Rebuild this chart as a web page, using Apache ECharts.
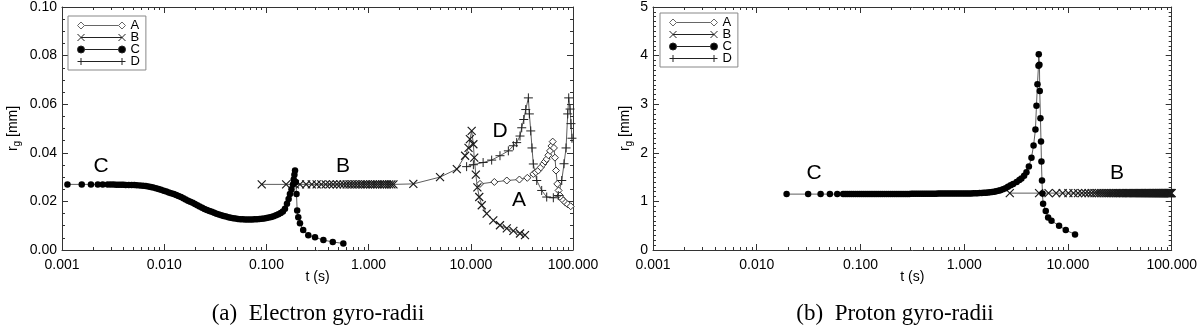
<!DOCTYPE html>
<html>
<head>
<meta charset="utf-8">
<title>gyro-radii</title>
<script src="https://cdn.jsdelivr.net/npm/echarts@6/dist/echarts.min.js"></script>
<style>
  html, body { margin: 0; padding: 0; background: #fff; }
  #chart { width: 1200px; height: 326px; }
</style>
</head>
<body>
<div id="chart"></div>
<script>
// ---- tick labels / axis ranges ----
var timeMajor = [0.001, 0.01, 0.1, 1, 10, 100];
var timeMinorSteps = [2, 3, 4, 5, 6, 7, 8, 9];
var electronMax = 0.10, electronStep = 0.02;
var protonMax = 5, protonStep = 1;
var seriesNames = ['A', 'B', 'C', 'D'];

// ---- (a) electron gyro-radii, [t (s), r_g (mm)] ----
var electronA = [[12.3,0.0272],[17,0.0280],[22.5,0.0286],[29.9,0.0290],[35.7,0.0297],[40.9,0.0313],[43.3,0.0320],[45.7,0.0327],[48.4,0.0340],[51.2,0.0354],[53.2,0.0364],[55.3,0.0374],[57.4,0.0390],[59.6,0.0408],[61.5,0.0428],[63.3,0.0446],[65.1,0.0420],[66.6,0.0380],[68.2,0.0327],[70.2,0.0272],[72.3,0.0245],[74.6,0.0224],[77.5,0.0212],[80.4,0.0204],[84.5,0.0195],[88.8,0.0188],[94.9,0.0180]];
var electronB = [[0.090,0.027],[0.156,0.027],[0.19,0.027],[0.213,0.027],[0.245,0.027],[0.278,0.027],[0.31,0.027],[0.345,0.027],[0.38,0.027],[0.415,0.027],[0.45,0.027],[0.49,0.027],[0.53,0.027],[0.57,0.027],[0.61,0.027],[0.65,0.027],[0.69,0.027],[0.735,0.027],[0.78,0.027],[0.83,0.027],[0.88,0.027],[0.93,0.027],[0.98,0.027],[1.04,0.027],[1.1,0.027],[1.16,0.027],[1.22,0.027],[1.29,0.027],[1.36,0.027],[1.43,0.027],[1.51,0.027],[1.59,0.027],[1.67,0.027],[1.75,0.027],[2.74,0.0272],[5.0,0.0300],[7.3,0.0333],[8.8,0.0388],[9.5,0.0420],[9.8,0.0456],[10.2,0.0490],[10.6,0.0435],[10.8,0.0380],[11.2,0.0310],[11.6,0.0258],[12.1,0.0218],[12.8,0.0184],[14.3,0.0150],[16.6,0.0122],[19.3,0.0102],[22.5,0.0089],[26.1,0.0079],[30.3,0.0068],[33.9,0.0061]];
var electronC = [[0.00113,0.0270],[0.00156,0.0270],[0.00192,0.0270],[0.00224,0.0270],[0.0025,0.0270],[0.0028,0.0270],[0.0030,0.0270],[0.0032,0.0270],[0.0034,0.0269],[0.0036,0.0269],[0.0038,0.0269],[0.0040,0.0269],[0.0042,0.0268],[0.0045,0.0268],[0.0048,0.0267],[0.0051,0.0267],[0.0054,0.0266],[0.0058,0.0265],[0.0062,0.0264],[0.0066,0.0263],[0.0070,0.0261],[0.0074,0.0259],[0.0078,0.0257],[0.0083,0.0254],[0.0088,0.0251],[0.0093,0.0248],[0.0099,0.0244],[0.0105,0.0241],[0.0111,0.0237],[0.0117,0.0234],[0.0124,0.0230],[0.0131,0.0226],[0.0138,0.0222],[0.0146,0.0218],[0.0154,0.0213],[0.0162,0.0208],[0.0171,0.0203],[0.0180,0.0199],[0.0190,0.0194],[0.0200,0.0189],[0.0211,0.0184],[0.0222,0.0179],[0.0235,0.0174],[0.0248,0.0169],[0.0262,0.0165],[0.0277,0.0161],[0.0292,0.0157],[0.0308,0.0153],[0.0325,0.0149],[0.0343,0.0146],[0.0362,0.0143],[0.0382,0.0140],[0.0403,0.0138],[0.0425,0.0135],[0.0448,0.0133],[0.0473,0.0131],[0.0499,0.0130],[0.0527,0.0128],[0.0556,0.0127],[0.0587,0.0127],[0.0619,0.0126],[0.0653,0.0126],[0.0689,0.0126],[0.0727,0.0126],[0.0767,0.0127],[0.0809,0.0127],[0.0854,0.0128],[0.0901,0.0129],[0.0951,0.0130],[0.1003,0.0132],[0.1058,0.0134],[0.1116,0.0136],[0.1177,0.0139],[0.1242,0.0143],[0.1310,0.0147],[0.1380,0.0152],[0.1450,0.0158],[0.1520,0.0170],[0.1590,0.0190],[0.1650,0.0210],[0.1700,0.0230],[0.1760,0.0250],[0.1820,0.0270],[0.1850,0.0290],[0.1880,0.0310],[0.1906,0.0327],[0.1940,0.0280],[0.1970,0.0230],[0.2000,0.0163],[0.2050,0.0135],[0.2130,0.0110],[0.2290,0.0082],[0.2570,0.0061],[0.2990,0.0052],[0.3610,0.0041],[0.4460,0.0033],[0.5660,0.0027]];
var electronD = [[9.1,0.0343],[10.6,0.0351],[13.2,0.0360],[16.0,0.0370],[19.3,0.0388],[23.3,0.0408],[26.1,0.0429],[28.1,0.0442],[30.3,0.0469],[31.5,0.0503],[33.0,0.0537],[34.5,0.0578],[36.6,0.0626],[37.4,0.0560],[38.6,0.0490],[39.7,0.0420],[40.9,0.0354],[44.2,0.0286],[49.4,0.0245],[55.3,0.0218],[64.2,0.0215],[71.8,0.0224],[77.6,0.0286],[81.7,0.0355],[85.5,0.0420],[88.8,0.0560],[90.8,0.0626],[93.6,0.0580],[95.5,0.0520],[97.7,0.0460]];

// ---- (b) proton gyro-radii, [t (s), r_g (mm)] ----
var protonA = [];
var protonB = [[2.75,1.17],[5.27,1.17],[6.5,1.17],[7.7,1.17],[8.9,1.17],[10.1,1.17],[11.3,1.17],[12.5,1.17],[13.6,1.17],[14.7,1.17],[15.8,1.17],[16.9,1.17],[18,1.17],[19,1.17],[20,1.17],[21,1.17],[22,1.17],[23,1.17],[24,1.17],[25,1.17],[26,1.17],[27,1.17],[28,1.17],[29,1.17],[30,1.17],[31,1.17],[32,1.17],[33,1.17],[34,1.17],[35,1.17],[36,1.17],[37,1.17],[38,1.17],[39,1.17],[40,1.17],[41,1.17],[42,1.17],[43,1.17],[44,1.17],[45,1.17],[46,1.17],[47,1.17],[48,1.17],[49,1.17],[50,1.17],[51,1.17],[52,1.17],[53,1.17],[54,1.17],[55,1.17],[56,1.17],[57,1.17],[58,1.17],[59,1.17],[60,1.17],[61,1.17],[62,1.17],[63,1.17],[64,1.17],[65,1.17],[66,1.17],[67,1.17],[68,1.17],[69,1.17],[70,1.17],[71,1.17],[72,1.17],[73,1.17],[74,1.17],[75,1.17],[76,1.17],[77,1.17],[78,1.17],[79,1.17],[80,1.17],[81,1.17],[82,1.17],[83,1.17],[84,1.17],[85,1.17],[86,1.17],[87,1.17],[88,1.17],[89,1.17],[90,1.17],[91,1.17],[92,1.17],[93,1.17],[94,1.17],[95,1.17],[96,1.17],[97,1.17],[98,1.17],[99,1.17],[100,1.17]];
var protonC = [[0.0194,1.15],[0.0313,1.15],[0.0413,1.15],[0.0507,1.15],[0.0597,1.15],[0.068,1.15],[0.0712,1.15],[0.0745,1.15],[0.078,1.15],[0.0817,1.15],[0.0855,1.15],[0.0895,1.15],[0.0937,1.15],[0.0981,1.15],[0.1027,1.15],[0.1075,1.15],[0.1126,1.15],[0.1179,1.15],[0.1234,1.15],[0.1292,1.15],[0.1353,1.15],[0.1416,1.15],[0.1483,1.15],[0.1552,1.15],[0.1625,1.15],[0.1702,1.15],[0.1782,1.15],[0.1865,1.15],[0.1953,1.15],[0.2045,1.15],[0.2141,1.15],[0.2241,1.15],[0.2347,1.15],[0.2457,1.15],[0.2572,1.15],[0.2693,1.15],[0.282,1.15],[0.2952,1.15],[0.3091,1.155],[0.3236,1.155],[0.3388,1.155],[0.3548,1.155],[0.3714,1.155],[0.3889,1.155],[0.4072,1.155],[0.4263,1.155],[0.4463,1.155],[0.4673,1.155],[0.4893,1.155],[0.5122,1.155],[0.5363,1.155],[0.5615,1.16],[0.5879,1.16],[0.6155,1.16],[0.6445,1.16],[0.6748,1.16],[0.7065,1.16],[0.7397,1.16],[0.7745,1.16],[0.8109,1.16],[0.849,1.16],[0.8889,1.16],[0.9307,1.16],[0.9744,1.16],[1.02,1.16],[1.068,1.165],[1.118,1.165],[1.171,1.165],[1.226,1.17],[1.284,1.17],[1.344,1.17],[1.407,1.175],[1.473,1.175],[1.543,1.18],[1.615,1.18],[1.691,1.185],[1.771,1.19],[1.854,1.195],[1.941,1.2],[2.032,1.21],[2.13,1.22],[2.23,1.23],[2.36,1.25],[2.5,1.27],[2.64,1.3],[2.8,1.33],[2.96,1.36],[3.2,1.4],[3.4,1.44],[3.56,1.47],[3.78,1.53],[3.98,1.6],[4.2,1.72],[4.45,1.9],[4.66,2.15],[4.86,2.48],[4.97,2.97],[5.08,3.41],[5.2,3.79],[5.23,4.03],[5.31,3.81],[5.35,3.27],[5.43,2.71],[5.5,2.23],[5.55,1.82],[5.62,1.43],[5.68,1.16],[5.76,0.95],[6.11,0.8],[6.44,0.67],[6.94,0.6],[8.21,0.5],[9.52,0.41],[11.7,0.32]];
var protonD = [];

// minor log ticks 2..9 of every decade (positions on a log10 helper axis)
var timeMinorLog = [];
timeMajor.slice(0, 5).forEach(function (d) {
    timeMinorSteps.forEach(function (m) { timeMinorLog.push(Math.log10(d * m)); });
});

var FONT = '"Liberation Sans", Arial, sans-serif';
var SERIF = '"Liberation Serif", "Times New Roman", serif';
var frame = { color: '#333', width: 1 };

// look of every series (symbol, size, style)
var looks = {
    A: { symbol: 'diamond', size: 7, item: { color: '#fff', borderColor: '#333', borderWidth: 1 } },
    B: { symbol: 'path://M0 0L10 10M0 10L10 0', size: 8, item: { color: 'none', borderColor: '#1a1a1a', borderWidth: 1.2 } },
    C: { symbol: 'circle', size: 6.5, item: { color: '#000' } },
    D: { symbol: 'path://M5 0L5 10M0 5L10 5', size: 9, item: { color: 'none', borderColor: '#222', borderWidth: 1 } }
};

// legend icons: line with a symbol at each end (48 x 7 box)
var legendIcons = {
    A: { icon: 'path://M3.5 0L7 3.5L3.5 7L0 3.5Z M7 3.5L41 3.5 M44.5 0L48 3.5L44.5 7L41 3.5Z', itemStyle: { color: '#fff', borderColor: '#666', borderWidth: 1 } },
    B: { icon: 'path://M0 0L7 7M0 7L7 0M3.5 3.5L44.5 3.5M41 0L48 7M41 7L48 0', itemStyle: { color: 'none', borderColor: '#222', borderWidth: 1 } },
    C: { icon: 'path://M7 3.5A3.5 3.5 0 1 1 0 3.5A3.5 3.5 0 1 1 7 3.5Z M7 3.5L41 3.5 M48 3.5A3.5 3.5 0 1 1 41 3.5A3.5 3.5 0 1 1 48 3.5Z', itemStyle: { color: '#000', borderColor: '#222', borderWidth: 1 } },
    D: { icon: 'path://M3.5 0L3.5 7M0 3.5L7 3.5M3.5 3.5L44.5 3.5M44.5 0L44.5 7M41 3.5L48 3.5', itemStyle: { color: 'none', borderColor: '#222', borderWidth: 1 } }
};

function legendFor(left, top) {
    return {
        left: left, top: top, orient: 'vertical',
        itemWidth: 48, itemHeight: 7, itemGap: -1,
        padding: [3, 6, 2, 7],
        borderColor: '#888', borderWidth: 1,
        selectedMode: false,
        textStyle: { fontFamily: FONT, fontSize: 13, color: '#000', lineHeight: 9 },
        data: seriesNames.map(function (n) {
            return { name: n, icon: legendIcons[n].icon, itemStyle: legendIcons[n].itemStyle };
        })
    };
}

function timeAxes(grid) {
    // major decades on a real log axis, minor 2..9 marks on a log10 helper axis
    function major(pos) {
        return {
            type: 'log', logBase: 10, min: 0.001, max: 100, gridIndex: grid, position: pos,
            splitLine: { show: false },
            axisLine: { show: true, onZero: false, lineStyle: frame },
            axisTick: { show: true, inside: true, length: 6, lineStyle: frame }
        };
    }
    function minor(pos) {
        return {
            type: 'value', min: -3, max: 2, gridIndex: grid, position: pos,
            splitLine: { show: false },
            axisLine: { show: false, onZero: false },
            axisTick: { show: true, inside: true, length: 3, customValues: timeMinorLog, lineStyle: frame },
            axisLabel: { show: false }
        };
    }
    var bottom = Object.assign(major('bottom'), {
        name: 't (s)', nameLocation: 'middle', nameGap: 20, nameMoveOverlap: false,
        nameTextStyle: { fontFamily: FONT, fontSize: 14, color: '#000' },
        axisLabel: { margin: 8, fontFamily: FONT, fontSize: 14, color: '#000',
            formatter: function (v) { return Number(v).toFixed(3); } }
    });
    var top = Object.assign(major('top'), { axisLabel: { show: false } });
    return [bottom, minor('bottom'), top, minor('top')];
}

function radiusAxes(grid, max, step, minorSplit, digits, nameGap) {
    function base(pos) {
        return {
            type: 'value', gridIndex: grid, position: pos, min: 0, max: max, interval: step,
            splitLine: { show: false },
            axisLine: { show: true, onZero: false, lineStyle: frame },
            axisTick: { show: true, inside: true, length: 6, lineStyle: frame },
            minorTick: { show: true, splitNumber: minorSplit, length: 3, lineStyle: frame }
        };
    }
    var left = Object.assign(base('left'), {
        name: 'r{s|g} [mm]', nameLocation: 'middle', nameGap: nameGap,
        nameTextStyle: { fontFamily: FONT, fontSize: 14, color: '#000',
            rich: { s: { fontFamily: FONT, fontSize: 10, color: '#000', padding: [8, 0, 0, 0] } } },
        axisLabel: { margin: 5, fontFamily: FONT, fontSize: 14, color: '#000',
            formatter: function (v) { return Number(v).toFixed(digits); } }
    });
    var right = Object.assign(base('right'), { axisLabel: { show: false } });
    return [left, right];
}

function makeSeries(name, data, xi, yi) {
    var lk = looks[name];
    return {
        name: name, type: 'line', data: data,
        xAxisIndex: xi, yAxisIndex: yi,
        symbol: lk.symbol, symbolSize: lk.size, showSymbol: true,
        itemStyle: lk.item,
        lineStyle: { color: '#333', width: 0.8 },
        emphasis: { disabled: true },
        silent: true, z: 2
    };
}

function label(text, x, y, size, family) {
    return {
        type: 'text', x: x, y: y, silent: true,
        style: { text: text, font: size + 'px ' + family, fill: '#000',
            align: 'center', verticalAlign: 'middle', textAlign: 'center', textVerticalAlign: 'middle' }
    };
}

var myChart = echarts.init(document.getElementById('chart'), null, { renderer: 'canvas' });

var option = {
    animation: false,
    backgroundColor: '#fff',
    grid: [
        { left: 62, top: 5, width: 511, height: 245 },
        { left: 653, top: 5, width: 519, height: 245 }
    ],
    xAxis: timeAxes(0).concat(timeAxes(1)),
    yAxis: radiusAxes(0, electronMax, electronStep, 4, 2, 40).concat(radiusAxes(1, protonMax, protonStep, 10, 0, 19)),
    legend: [legendFor(68, 16), legendFor(660, 13)],
    series: [
        makeSeries('A', electronA, 0, 0),
        makeSeries('B', electronB, 0, 0),
        makeSeries('C', electronC, 0, 0),
        makeSeries('D', electronD, 0, 0),
        makeSeries('A', protonA, 4, 2),
        makeSeries('B', protonB, 4, 2),
        makeSeries('C', protonC, 4, 2),
        makeSeries('D', protonD, 4, 2)
    ],
    graphic: [
        label('C', 101, 166, 21, FONT),
        label('B', 343, 166, 21, FONT),
        label('D', 500, 131, 21, FONT),
        label('A', 519, 200, 21, FONT),
        label('C', 814, 173, 21, FONT),
        label('B', 1117, 173, 21, FONT),
        label('(a)  Electron gyro-radii', 318, 314, 23, SERIF),
        label('(b)  Proton gyro-radii', 895, 314, 23, SERIF)
    ]
};
myChart.setOption(option);
</script>
</body>
</html>
